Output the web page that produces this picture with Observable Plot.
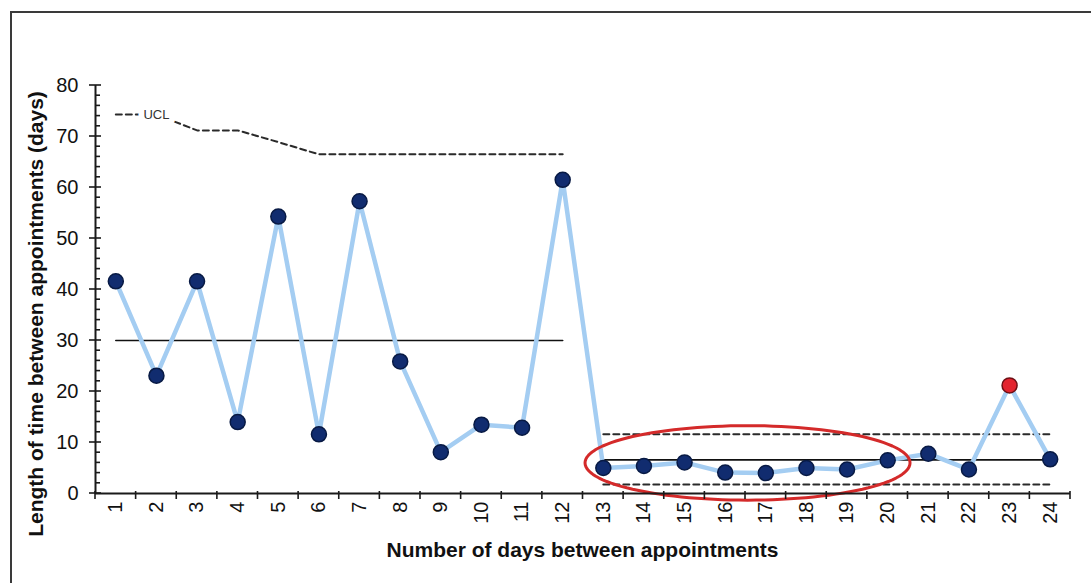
<!DOCTYPE html>
<html>
<head>
<meta charset="utf-8">
<script src="https://cdn.jsdelivr.net/npm/d3@7"></script>
<script src="https://cdn.jsdelivr.net/npm/@observablehq/plot@0.6"></script>
<style>
  html, body { margin: 0; padding: 0; background: #fff; }
  #wrap { position: relative; width: 1091px; height: 583px; overflow: hidden; background: #fff; }
  #frame { position: absolute; left: 10px; top: 11px; width: 1100px; height: 600px;
           border-top: 2px solid #3a3a3a; border-left: 2px solid #3a3a3a; }
  #chart { position: absolute; left: 0; top: 0; }
</style>
</head>
<body>
<div id="wrap"><div id="frame"></div><div id="chart"></div></div>
<script>
// ---- data ----
const days = [1, 2, 3, 4, 5, 6, 7, 8, 9, 10, 11, 12, 13, 14, 15, 16, 17, 18, 19, 20, 21, 22, 23, 24];
const lengthDays = [41.6, 23.1, 41.6, 14.0, 54.3, 11.6, 57.3, 25.9, 8.1, 13.5, 12.9, 61.5,
                    5.0, 5.4, 6.1, 4.1, 4.0, 5.0, 4.7, 6.5, 7.8, 4.7, 21.2, 6.7];
const phase = ["before", "before", "before", "before", "before", "before", "before", "before", "before", "before", "before", "before",
               "after", "after", "after", "after", "after", "after", "after", "after", "after", "after", "after", "after"];
const centreLine = [30, 30, 30, 30, 30, 30, 30, 30, 30, 30, 30, 30,
                    6.6, 6.6, 6.6, 6.6, 6.6, 6.6, 6.6, 6.6, 6.6, 6.6, 6.6, 6.6];
const ucl = [74.3, 74.3, 71.2, 71.2, 68.9, 66.5, 66.5, 66.5, 66.5, 66.5, 66.5, 66.5,
             11.6, 11.6, 11.6, 11.6, 11.6, 11.6, 11.6, 11.6, 11.6, 11.6, 11.6, 11.6];
const lcl = [null, null, null, null, null, null, null, null, null, null, null, null,
             1.75, 1.75, 1.75, 1.75, 1.75, 1.75, 1.75, 1.75, 1.75, 1.75, 1.75, 1.75];
const signalDays = [23];
const yTicks = [0, 10, 20, 30, 40, 50, 60, 70, 80];
const yMinorTicks = [2, 4, 6, 8, 12, 14, 16, 18, 22, 24, 26, 28, 32, 34, 36, 38, 42, 44, 46, 48,
                     52, 54, 56, 58, 62, 64, 66, 68, 72, 74, 76, 78];
const xTitle = "Number of days between appointments";
const yTitle = "Length of time between appointments (days)";
const uclLabel = "UCL";
// annotation ellipse (data units): centre day, centre value, radii
const ring = {cx: 16.55, cy: 6.0, rx: 4.0, ry: 7.3};

// ---- table ----
const rows = days.map((d, i) => ({
  day: d, value: lengthDays[i], phase: phase[i], cl: centreLine[i],
  ucl: ucl[i], lcl: lcl[i], signal: signalDays.includes(d)
}));
const xBounds = [0.5].concat(days.map(d => d + 0.5));
const ringPts = d3.range(0, 360, 3).map(a => ({
  x: ring.cx + ring.rx * Math.cos(a * Math.PI / 180),
  y: ring.cy + ring.ry * Math.sin(a * Math.PI / 180)
}));

const FONT = "'Liberation Sans', Arial, Helvetica, sans-serif";

function tickMarks(index, scales) {
  const g = d3.create("svg:g").attr("stroke", "#1a1a1a").attr("stroke-width", 1.6);
  const x0 = scales.x(0.5), yb = scales.y(0);
  for (const t of yTicks) {
    const y = scales.y(t);
    g.append("line").attr("x1", x0 - 6).attr("x2", x0 + 6).attr("y1", y).attr("y2", y);
  }
  for (const t of yMinorTicks) {
    const y = scales.y(t);
    g.append("line").attr("x1", x0).attr("x2", x0 + 5).attr("y1", y).attr("y2", y);
  }
  for (const b of xBounds) {
    const x = scales.x(b);
    g.append("line").attr("x1", x).attr("x2", x).attr("y1", yb - 2).attr("y2", yb + 6);
  }
  return g.node();
}

function axisTitles(index, scales, values, dims) {
  const g = d3.create("svg:g")
    .attr("font-family", FONT).attr("font-size", 21).attr("font-weight", "bold").attr("fill", "#111");
  const cx = (dims.marginLeft + dims.width - dims.marginRight) / 2;
  const yb = dims.height - dims.marginBottom;
  g.append("text").attr("x", cx).attr("y", yb + 64).attr("text-anchor", "middle").text(xTitle);
  g.append("text").attr("transform", `translate(${dims.marginLeft - 52},${yb - 179}) rotate(-90)`)
    .attr("text-anchor", "middle").text(yTitle);
  return g.node();
}

const chart = Plot.plot({
  width: 1091,
  height: 583,
  marginLeft: 95,
  marginRight: 21,
  marginTop: 85,
  marginBottom: 90,
  style: {fontFamily: FONT, fontSize: "20px", color: "#111", background: "transparent"},
  x: {type: "linear", domain: [0.5, 24.5]},
  y: {domain: [0, 80]},
  marks: [
    Plot.axisY(yTicks, {tickSize: 0, tickPadding: 17, fontSize: 20, label: null}),
    Plot.axisX(days, {tickSize: 0, tickPadding: 8, tickRotate: -90, fontSize: 20, label: null}),
    // control limits
    Plot.line(rows, {x: "day", y: "ucl", z: "phase", stroke: "#2a2a2a", strokeWidth: 2, strokeDasharray: "6,4"}),
    Plot.line(rows.filter(d => d.lcl != null), {x: "day", y: "lcl", z: "phase", stroke: "#2a2a2a", strokeWidth: 2, strokeDasharray: "6,4"}),
    Plot.text([uclLabel], {x: [days[1]], y: [ucl[1]], fontSize: 13, fill: "#333", stroke: "white", strokeWidth: 12, paintOrder: "stroke"}),
    // centre lines
    Plot.line(rows, {x: "day", y: "cl", z: "phase", stroke: "#111", strokeWidth: 1.6}),
    // data
    Plot.line(rows, {x: "day", y: "value", stroke: "#a4cdf2", strokeWidth: 4.5}),
    Plot.dot(rows, {x: "day", y: "value", r: 7.5,
      fill: d => d.signal ? "#e3232e" : "#112c6f",
      stroke: d => d.signal ? "#6e0f14" : "#081a44", strokeWidth: 1.5}),
    // annotation ring
    Plot.line(ringPts, {x: "x", y: "y", curve: "linear-closed", stroke: "#d42a2a", strokeWidth: 3}),
    // axes lines and ticks
    Plot.ruleY([0], {x1: 0.5, x2: 24.5, stroke: "#1a1a1a", strokeWidth: 2}),
    Plot.ruleX([0.5], {y1: 0, y2: 80, stroke: "#1a1a1a", strokeWidth: 2}),
    tickMarks,
    axisTitles
  ]
});
document.getElementById("chart").appendChild(chart);
</script>
</body>
</html>
